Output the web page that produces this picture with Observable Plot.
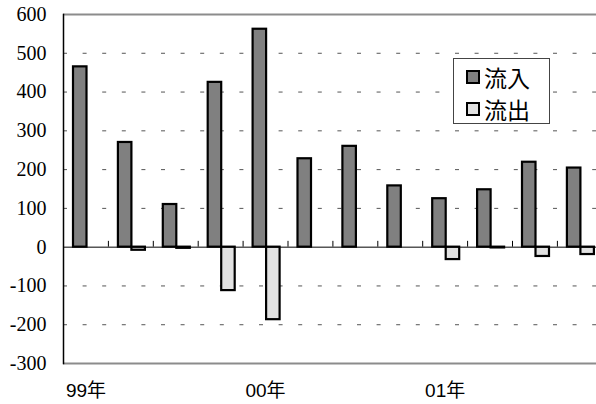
<!DOCTYPE html>
<html>
<head>
<meta charset="utf-8">
<script src="https://cdn.jsdelivr.net/npm/d3@7"></script>
<script src="https://cdn.jsdelivr.net/npm/@observablehq/plot@0.6"></script>
<style>
  html, body { margin: 0; padding: 0; background: #fff; overflow: hidden; }
  #wrap { position: relative; width: 596px; height: 404px; }
  #legend {
    position: absolute; left: 453px; top: 58px; width: 97px; height: 66px;
    border: 1px solid #444; background: #fff; box-sizing: border-box;
    font-family: "Noto Sans CJK JP", sans-serif; font-size: 23px; color: #000;
    padding-top: 2px;
  }
  .item { display: flex; align-items: center; height: 32px; padding-left: 12px; }
  .sw { width: 10px; height: 10px; border: 2px solid #000; margin-right: 4px; }
</style>
</head>
<body>
<div id="wrap"><div id="legend"></div></div>
<script>
const quarters = ["99Q1","99Q2","99Q3","99Q4","00Q1","00Q2","00Q3","00Q4","01Q1","01Q2","01Q3","01Q4"];
const inflow  = [465, 270, 110, 425, 562, 228, 260, 158, 125, 148, 219, 204];
const outflow = [0, -8, -3, -112, -187, 0, 0, 0, -32, -2, -24, -19];
const seriesNames = ["流入", "流出"];
const seriesFills = ["#808080", "#e2e2e2"];
const yTicks = [-300, -200, -100, 0, 100, 200, 300, 400, 500, 600];
const gridTicks = [-200, -100, 100, 200, 300, 400, 500];
const xTickQuarters = ["99Q1", "00Q1", "01Q1"];
const xTickLabels = ["99年", "00年", "01年"];

const rows = quarters.map((q, i) => ({q, inflow: inflow[i], outflow: outflow[i]}));
const labelOf = new Map(xTickQuarters.map((q, i) => [q, xTickLabels[i]]));

const serif = '"Liberation Serif", "Times New Roman", Tinos, serif';
const sans = '"Liberation Sans", Arial, "Noto Sans CJK JP", sans-serif';
const band = 44.9;
const chart = Plot.plot({
  width: 596,
  height: 404,
  marginLeft: 63,
  marginRight: 0,
  marginTop: 14,
  marginBottom: 41,
  x: {type: "band", domain: quarters, padding: 0, round: false, range: [63, 63 + 12 * band], axis: null},
  y: {domain: [-300, 600], range: [363, 14], axis: null},
  marks: [
    Plot.gridY(gridTicks, {stroke: "#555", strokeOpacity: 1, strokeWidth: 1, strokeDasharray: "4,15.6"}),
    Plot.ruleY([600, -300], {stroke: "#8c8c8c", strokeWidth: 2}),
    Plot.barY(rows, {x: "q", y: "inflow", fill: seriesFills[0], stroke: "#000", strokeWidth: 2.2, insetLeft: 10, insetRight: band - 23.5}),
    Plot.barY(rows.filter(d => d.outflow !== 0), {x: "q", y: "outflow", fill: seriesFills[1], stroke: "#000", strokeWidth: 2.2, insetLeft: 23.5, insetRight: band - 37}),
    Plot.ruleY([0], {stroke: "#000", strokeWidth: 1}),
    Plot.ruleX(quarters.slice(1), {x: d => d, y1: 0, y2: 15, dx: -band / 2, stroke: "#000", strokeWidth: 1}),
    Plot.frame({anchor: "left", stroke: "#000", strokeWidth: 1.5}),
    Plot.text(yTicks, {frameAnchor: "left", y: d => d, text: d => String(d), textAnchor: "end", dx: -17, fontSize: 20, fontFamily: serif, fill: "#000"}),
    Plot.axisX(xTickQuarters, {tickSize: 0, tickPadding: 20, tickFormat: d => labelOf.get(d), label: null, fontSize: 19, fontFamily: sans, fill: "#000"})
  ]
});
chart.style.position = "absolute";
chart.style.left = "0";
chart.style.top = "0";
chart.style.overflow = "hidden";
document.getElementById("wrap").prepend(chart);

const legend = document.getElementById("legend");
seriesNames.forEach((name, i) => {
  const item = document.createElement("div");
  item.className = "item";
  const sw = document.createElement("span");
  sw.className = "sw";
  sw.style.background = seriesFills[i];
  const t = document.createElement("span");
  t.textContent = name;
  item.append(sw, t);
  legend.append(item);
});
</script>
</body>
</html>
